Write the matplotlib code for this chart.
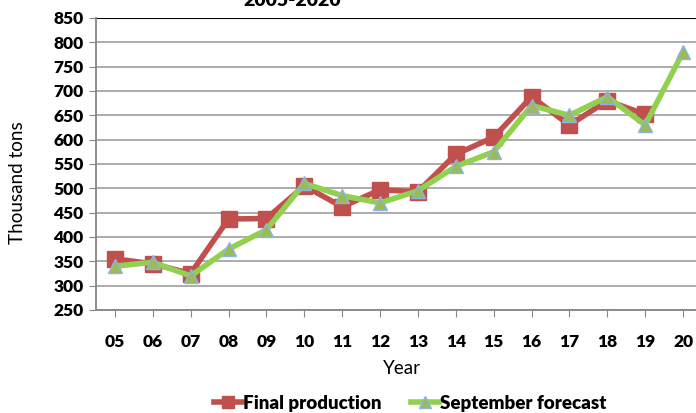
import numpy as np
import matplotlib.pyplot as plt

plt.rcParams['font.family'] = ['Lato', 'DejaVu Sans']

years = ['05', '06', '07', '08', '09', '10', '11', '12', '13', '14', '15', '16', '17', '18', '19', '20']
final_production = [355, 345, 325, 437, 438, 505, 462, 497, 493, 570, 605, 688, 630, 680, 652, np.nan]
september_forecast = [340, 348, 320, 375, 415, 510, 485, 470, 495, 545, 575, 670, 650, 688, 630, 780]
y_ticks = list(range(250, 851, 50))

W, H = 696, 413
fig = plt.figure(figsize=(W / 100, H / 100), dpi=100)
# plot area in pixels: left 96, right 702 (cut off), top 18, bottom 310
ax = fig.add_axes([96 / W, 1 - 310 / H, (702 - 96) / W, (310 - 18) / H])

x = np.arange(len(years))
ax.plot(x, final_production, color='#C0504D', linewidth=4, marker='s',
        markersize=11, markerfacecolor='#C0504D', markeredgecolor='#C0504D',
        label='Final production', zorder=3)
ax.plot(x, september_forecast, color='#92D050', linewidth=4, marker='^',
        markersize=10, markerfacecolor='#9BBB59', markeredgecolor='#8DB4E2',
        markeredgewidth=1, label='September forecast', zorder=4)

ax.set_xlim(-0.5, len(years) - 0.5)
ax.set_ylim(250, 850)
ax.set_yticks(y_ticks)
ax.set_xticks(x)
ax.set_xticklabels(years, fontsize=12.5, fontweight='heavy')
ax.set_yticklabels([str(v) for v in y_ticks], fontsize=12.5, fontweight='heavy')

ax.yaxis.grid(True, color='#A6A6A6', linewidth=1.3)
ax.axhline(850, color='black', linewidth=1.5, zorder=2)
ax.set_axisbelow(True)
for s in ['top', 'right']:
    ax.spines[s].set_visible(False)
ax.spines['left'].set_color('#868686')
ax.spines['bottom'].set_color('#868686')
ax.spines['left'].set_linewidth(1.3)
ax.spines['bottom'].set_linewidth(1.3)
ax.tick_params(axis='y', length=5, color='#868686', pad=4)
ax.tick_params(axis='x', length=5, color='#868686', pad=12)

fig.text(18 / W, 1 - 183 / H, 'Thousand tons', rotation=90, ha='center', va='center', fontsize=13.6)
fig.text(402 / W, 1 - 369 / H, 'Year', ha='center', va='center', fontsize=13.5)
fig.text(292 / W, 1 - 1 / H, '2005-2020', ha='center', va='center', fontsize=14, fontweight='heavy')

leg = fig.legend(loc='center', bbox_to_anchor=(410 / W, 1 - 403 / H), ncol=2, frameon=False,
                 prop={'size': 13.5, 'weight': 'heavy'}, handlelength=1.5, handletextpad=0.05,
                 columnspacing=1.6, borderpad=0, markerscale=0.8)

fig.savefig('out.png', dpi=100)
